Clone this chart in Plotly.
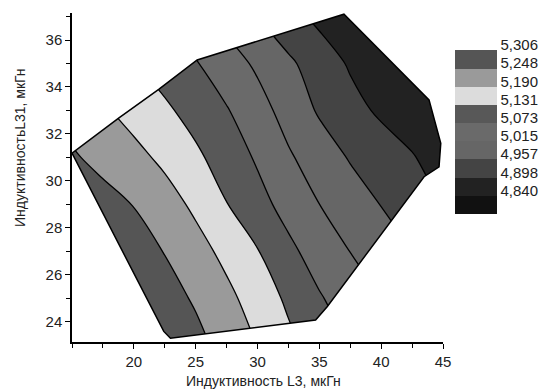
import plotly.graph_objects as go

# ---- data ----
x_grid = [15, 17.5, 20, 22.5, 25, 27.5, 30, 32.5, 35, 37.5, 40, 42.5, 45]
y_grid = [23, 25, 27, 29, 31, 33, 35, 37, 38]
z_vals = [
    [5.352, 5.329, 5.306, 5.284, 5.262, 5.231, 5.188, 5.145, 5.106, 5.070, 5.042, 5.015, 4.988],
    [5.334, 5.312, 5.289, 5.267, 5.242, 5.204, 5.164, 5.121, 5.078, 5.046, 5.015, 4.987, 4.958],
    [5.314, 5.291, 5.269, 5.246, 5.211, 5.174, 5.134, 5.086, 5.048, 5.014, 4.986, 4.957, 4.921],
    [5.292, 5.269, 5.246, 5.214, 5.178, 5.133, 5.092, 5.053, 5.015, 4.985, 4.955, 4.925, 4.896],
    [5.255, 5.230, 5.206, 5.177, 5.142, 5.105, 5.066, 5.022, 4.986, 4.952, 4.927, 4.901, 4.880],
    [5.225, 5.197, 5.169, 5.141, 5.110, 5.077, 5.037, 4.993, 4.950, 4.917, 4.889, 4.878, 4.870],
    [5.196, 5.166, 5.135, 5.106, 5.077, 5.041, 5.005, 4.967, 4.928, 4.892, 4.872, 4.858, 4.850],
    [5.190, 5.150, 5.111, 5.072, 5.036, 4.997, 4.956, 4.917, 4.885, 4.870, 4.860, 4.853, 4.848],
    [5.166, 5.127, 5.088, 5.051, 5.013, 4.972, 4.933, 4.898, 4.876, 4.865, 4.857, 4.851, 4.846],
]
# boundary of the measured region
domain_x = [15.0, 18.77, 22.01, 25.12, 36.99, 43.87, 44.82, 44.68, 43.47, 35.65, 34.7, 22.96, 22.42]
domain_y = [31.18, 32.67, 33.9, 35.15, 37.1, 33.45, 31.6, 30.6, 30.18, 24.65, 24.08, 23.3, 23.59]
# contour levels (legend labels)
levels = [4.840, 4.898, 4.957, 5.015, 5.073, 5.131, 5.190, 5.248, 5.306]
# band colours, from below the lowest level upwards
band_colors = ["#111111", "#222222", "#444444", "#666666", "#6a6a6a",
               "#585858", "#dcdcdc", "#9a9a9a", "#555555", "#555555"]
x_ticks = [20, 25, 30, 35, 40, 45]
y_ticks = [24, 26, 28, 30, 32, 34, 36]

step = (levels[-1] - levels[0]) / (len(levels) - 1)
n = len(band_colors)
contour_scale = [[i / (n - 1), c] for i, c in enumerate(band_colors)]

fig = go.Figure()
fig.add_trace(go.Contour(
    x=x_grid, y=y_grid, z=z_vals,
    autocontour=False,
    contours=dict(start=levels[0], end=levels[-1], size=step, coloring="fill"),
    colorscale=contour_scale,
    line=dict(color="black", width=1.3, smoothing=1),
    showscale=False, hoverinfo="skip",
))

# white mask outside the measured region
px0, py0 = domain_x[0], domain_y[0]
mask_x = domain_x + [px0, 14, 14, 46, 46, 14, 14, px0]
mask_y = domain_y + [py0, py0, 22, 22, 38, 38, py0, py0]
fig.add_trace(go.Scatter(x=mask_x, y=mask_y, mode="lines", fill="toself",
                         fillcolor="white", line=dict(width=0, color="white"),
                         hoverinfo="skip", showlegend=False))
# outline of the region
fig.add_trace(go.Scatter(x=domain_x + [px0], y=domain_y + [py0], mode="lines",
                         line=dict(color="black", width=1.5),
                         hoverinfo="skip", showlegend=False))

# legend colour bar (9 boxes + thin blank strip on top so the top label fits)
lo = levels[0] - step
extra = 0.3 * step
hi = levels[-1] + extra
span = hi - lo
bar_scale = []
edges = [lo + i * step for i in range(10)]
for i, c in enumerate(band_colors[:9]):
    bar_scale.append([(edges[i] - lo) / span, c])
    bar_scale.append([(edges[i + 1] - lo) / span, c])
bar_scale.append([(edges[9] - lo) / span + 1e-6, "white"])
bar_scale.append([1.0, "white"])
box_px = 18.2
fig.add_trace(go.Heatmap(
    x=[100, 101], y=[100], z=[[lo, hi]], zmin=lo, zmax=hi,
    colorscale=bar_scale, hoverinfo="skip",
    colorbar=dict(
        x=(455 - 72) / 371, xanchor="left", xpad=0,
        y=(342 - 50 + extra / step * box_px) / 329, yanchor="top", ypad=0,
        thickness=42, lenmode="pixels", len=box_px * (9 + extra / step),
        tickmode="array",
        tickvals=[v + 0.27 * step for v in levels],
        ticktext=[f"{v:.3f}".replace(".", ",") for v in levels],
        ticks="",
        tickfont=dict(family="Liberation Sans, Arial", size=15, color="#222"),
        outlinewidth=0,
    ),
))

axis_font = dict(family="Liberation Sans, Arial", size=15, color="#222")
fig.update_layout(
    width=546, height=392,
    margin=dict(l=72, r=103, t=13, b=50, autoexpand=False),
    paper_bgcolor="white", plot_bgcolor="white",
    separators=", ",
    showlegend=False,
    xaxis=dict(range=[15, 45], showgrid=False, zeroline=False,
               showline=True, linecolor="black", linewidth=1.5,
               tickmode="array", tickvals=x_ticks, ticks="outside",
               ticklen=5, tickwidth=1.3, tickcolor="black", tickfont=axis_font,
               minor=dict(dtick=2.5, tick0=15, ticks="outside", ticklen=4,
                          tickwidth=1.3, tickcolor="black", showgrid=False)),
    yaxis=dict(range=[23.14, 37.15], showgrid=False, zeroline=False,
               showline=True, linecolor="black", linewidth=1.5,
               tickmode="array", tickvals=y_ticks, ticks="outside",
               ticklen=5, tickwidth=1.3, tickcolor="black", tickfont=axis_font,
               minor=dict(dtick=1, tick0=23, ticks="outside", ticklen=4,
                          tickwidth=1.3, tickcolor="black", showgrid=False)),
    annotations=[
        dict(text="Индуктивность L3, мкГн", xref="paper", yref="paper",
             x=0.5175, y=-0.119, xanchor="center", yanchor="middle",
             showarrow=False, font=dict(family="Liberation Sans, Arial", size=14, color="#222")),
        dict(text="ИндуктивностьL31, мкГн", xref="paper", yref="paper",
             x=-0.140, y=0.59, xanchor="center", yanchor="middle", textangle=-90,
             showarrow=False, font=dict(family="Liberation Sans, Arial", size=14, color="#222")),
    ],
)

fig.write_html("out.html", config={"displayModeBar": False},
               post_script="document.body.style.margin='0';document.body.style.padding='0';")
